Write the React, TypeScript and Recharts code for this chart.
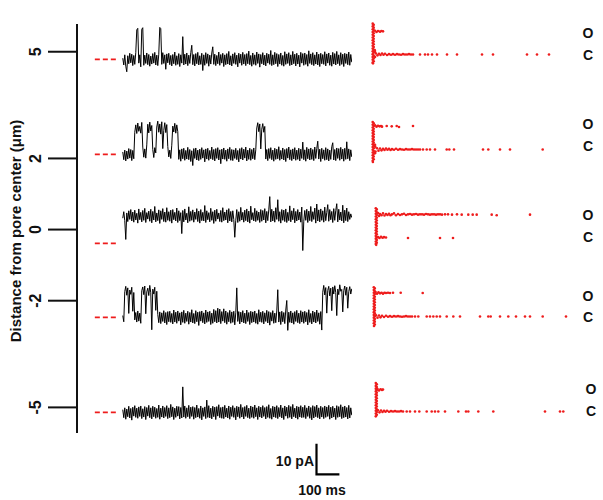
import React from "react";
import { LineChart, Line, XAxis, YAxis, ScatterChart, Scatter, ReferenceLine } from "recharts";

// distance axis (µm)
const distanceTicks = [5, 2, 0, -2, -5];

// single-channel current, pA relative to the closed level, 1 s sweep, evenly sampled
const trace5 = [
  0.4, -1.8, 1.5, -2.2, -4.0, 1.2, -1.4, 2.0, -1.1, 1.7,
  -2.0, 1.3, -1.6, 2.2, 9.6, 10.1, -1.2, 1.5, -2.4, 9.8,
  10.3, -1.9, 1.4, -1.3, 2.1, -1.7, 1.6, -2.2, 1.1, -1.5,
  1.9, -1.2, 2.3, -1.8, 1.4, -2.0, 1.7, 10.4, 10.0, -1.6,
  2.2, -1.3, 1.5, -3.2, 1.8, -1.1, 2.0, -1.7, 1.3, -2.1,
  1.6, -1.4, 2.4, -1.9, 1.2, -1.6, 1.9, -2.3, 1.5, -1.2,
  7.4, -1.8, 1.7, -1.5, 2.1, -2.0, 1.4, -1.3, 2.2, 4.6,
  -1.7, 1.6, -2.1, 1.9, -1.4, 2.3, -1.8, 1.2, -1.6, 2.0,
  -3.6, 1.5, -1.9, 2.2, -1.3, 1.8, -2.2, 1.4, -1.5, 2.1,
  4.1, -1.6, 1.7, -2.0, 1.3, -1.4, 2.4, -1.9, 1.6, -1.2,
  2.0, -2.3, 1.5, -1.7, 1.9, -1.5, 2.6, -1.8, 1.2, -2.1,
  1.8, -1.3, 2.2, -1.6, 1.4, -2.4, 2.0, -1.2, 1.7, -1.9,
  2.3, -1.5, 1.6, -2.0, 1.9, -1.4, 2.7, -1.7, 1.3, -2.2,
  2.1, -1.6, 1.5, -1.9, 2.4, -1.3, 1.8, -2.5, 1.6, -1.4,
  2.2, -1.8, 1.4, -2.1, 2.0, -1.2, 1.7, -1.6, 2.9, -2.0,
  1.5, -1.7, 2.3, -1.4, 1.9, -2.3, 1.6, -1.5, 2.1, -1.9,
  1.3, -2.2, 2.5, -1.6, 1.8, -1.3, 2.2, -2.0, 1.5, -1.8,
  2.6, -1.4, 1.7, -2.1, 2.0, -1.5, 1.4, -2.4, 2.3, -1.2,
  1.9, -1.9, 2.1, -1.6, 1.6, -2.2, 2.8, -1.3, 1.8, -1.7,
  2.2, -2.0, 1.5, -1.5, 2.4, -1.8, 1.7, -2.3, 2.0, -1.4,
  1.6, -1.6, 2.5, -2.1, 1.8, -1.2, 2.1, -1.9, 1.4, -2.2,
  2.3, -1.5, 1.9, -1.8, 2.6, -1.4, 1.5, -2.0, 2.2, -1.6,
  1.7, -2.3, 2.0, -1.3, 1.8, -1.7, 2.4, -1.9, 1.6, -0.9,
];
const trace2 = [
  0.8, -1.7, 1.4, -2.1, 1.1, -1.5, 1.9, -1.2, 1.6, -2.0,
  1.3, -1.4, 7.2, 9.6, 6.8, 10.2, 7.5, 9.1, 6.9, 10.4,
  2.4, -0.9, 1.8, -1.2, 3.1, 9.8, 7.0, 10.5, 7.6, 9.4,
  1.6, -1.0, 2.2, 0.5, 8.9, 10.8, 7.2, 9.9, 6.6, 10.6,
  1.9, 7.8, 10.3, 7.1, 9.7, 2.6, -0.8, 1.4, -1.3, 3.0,
  9.2, 7.3, 10.1, 6.9, 9.6, 7.4, -1.6, 1.5, -2.2, 1.8,
  -1.4, 2.0, -1.9, 1.3, -1.5, 2.3, -1.7, 1.6, -2.3, 1.2,
  -3.6, 1.9, -1.3, 2.1, -1.8, 1.4, -2.0, 1.7, -1.6, 2.2,
  -1.2, 1.5, -2.4, 1.8, -1.5, 2.0, -1.9, 1.3, -1.4, 2.4,
  -1.7, 1.6, -2.1, 1.9, -1.3, 2.2, -1.8, 1.5, -3.0, 1.7,
  -1.5, 2.1, -1.6, 1.4, -2.2, 1.8, -1.4, 2.3, -1.9, 1.6,
  -2.0, 1.5, -1.3, 2.0, -1.7, 1.3, -2.4, 1.9, -1.5, 2.2,
  -1.8, 1.7, -1.2, 2.4, -2.1, 1.4, -1.6, 2.0, -1.9, 1.6,
  -1.4, 2.1, -1.7, 1.5, 8.6, 10.3, 7.4, 9.9, 1.8, 8.2,
  10.0, 7.2, 9.1, -1.5, 1.6, -2.0, 1.9, -1.3, 2.2, -1.7,
  1.4, -2.2, 2.0, -1.6, 1.7, -1.4, 2.5, -1.9, 1.3, -1.5,
  2.1, -1.8, 1.6, -2.3, 1.9, -1.2, 2.4, -1.7, 1.5, -2.0,
  1.8, -1.5, 2.2, -1.9, 1.4, -1.6, 2.0, -2.1, 1.7, -1.3,
  4.0, -1.7, 1.5, -2.2, 2.3, -1.4, 1.8, -1.8, 2.1, -1.6,
  1.6, -2.0, 2.4, -1.3, 1.9, 4.3, -1.5, 1.7, -2.3, 2.0,
  -1.4, 1.5, -1.9, 2.2, -1.7, 1.8, -2.1, 1.4, -1.6, 2.5,
  3.8, -1.8, 1.6, -2.0, 2.1, -1.3, 1.9, -1.9, 2.3, -1.5,
  1.7, -2.2, 2.0, -1.6, 4.1, -1.4, 1.8, -2.0, 1.5, -0.8,
];
const trace0 = [
  8.2, 10.3, 7.4, 1.3, 9.9, 7.1, 10.6, 7.8, 11.0, 7.3,
  10.2, 6.9, 10.8, 7.6, 9.8, 6.6, 11.2, 7.7, 10.1, 7.0,
  10.7, 7.5, 11.4, 6.8, 10.0, 7.9, 10.5, 7.2, 11.1, 6.7,
  10.4, 7.6, 12.0, 7.0, 9.9, 7.4, 10.9, 6.5, 10.6, 7.8,
  11.3, 7.1, 10.2, 6.9, 11.6, 7.5, 10.3, 7.2, 10.8, 6.6,
  11.0, 7.7, 10.1, 7.3, 11.5, 6.8, 10.6, 7.4, 10.0, 3.2,
  10.7, 7.0, 11.2, 7.6, 9.8, 6.7, 11.9, 7.2, 10.4, 7.5,
  10.9, 6.9, 10.2, 7.8, 11.3, 7.1, 10.5, 6.6, 11.0, 7.4,
  10.1, 7.3, 12.3, 6.8, 10.6, 7.7, 10.0, 7.0, 11.4, 7.5,
  10.3, 6.5, 10.8, 7.2, 11.1, 7.9, 9.9, 7.1, 10.7, 6.9,
  11.6, 7.4, 10.2, 7.6, 10.9, 6.7, 11.3, 7.3, 10.4, 7.0,
  10.6, 7.8, 2.0, 7.5, 11.0, 6.8, 10.3, 7.2, 11.7, 7.6,
  10.1, 6.9, 10.8, 7.4, 11.2, 7.0, 10.5, 6.6, 12.1, 7.7,
  10.0, 7.3, 11.4, 7.1, 10.6, 7.5, 10.2, 6.8, 11.0, 7.2,
  10.7, 7.6, 11.3, 6.7, 10.4, 7.4, 10.9, 15.2, 7.0, 11.1,
  7.3, 10.5, 6.9, 11.6, 7.8, 14.2, 7.2, 10.3, 6.6, 11.0,
  7.5, 10.8, 7.1, 11.2, 6.8, 10.1, 7.4, 12.2, 7.0, 10.6,
  7.7, 11.4, 6.7, 10.4, 7.3, 11.0, 7.6, 10.2, 6.9, 11.8,
  -2.3, 7.2, 10.7, 7.5, 11.1, 6.8, 10.5, 7.4, 12.0, 7.1,
  10.3, 7.8, 11.5, 6.6, 12.8, 7.3, 10.9, 7.0, 11.2, 7.5,
  10.6, 6.9, 11.8, 7.4, 10.1, 12.6, 7.2, 11.0, 7.7, 10.4,
  6.8, 11.3, 7.5, 10.7, 12.9, 7.0, 11.1, 7.6, 10.2, 7.3,
  12.4, 6.7, 10.8, 7.4, 11.5, 7.1, 10.3, 7.8, 9.6, 8.4,
];
const traceM2 = [
  0.6, -1.4, 8.4, 10.1, 7.2, 9.6, 1.3, 8.9, 7.5, 9.8,
  2.0, 8.1, -0.8, 1.6, -1.5, 2.1, -1.2, 1.4, -1.9, 8.7,
  9.9, 7.4, 10.2, 1.2, 8.3, 9.5, 7.1, 10.4, 8.0, -4.0,
  9.2, 7.6, 9.8, 2.3, 8.5, 1.0, -1.7, 1.8, -2.0, 1.5,
  -1.3, 2.2, -1.8, 1.6, -2.3, 1.9, -1.4, 2.0, -1.6, 1.3,
  -2.1, 2.4, -1.5, 1.7, -1.9, 2.1, -1.2, 1.5, -2.4, 1.8,
  -1.6, 2.3, -1.9, 1.4, -1.3, 2.0, -2.2, 1.6, -1.5, 2.5,
  -1.8, 1.3, -2.0, 2.2, -1.4, 1.7, -2.6, 1.9, -1.2, 2.1,
  -1.7, 1.5, -2.1, 2.4, -1.6, 1.8, -1.3, 2.0, -2.3, 1.4,
  -1.9, 2.6, -1.4, 2.2, -1.8, 3.0, -1.5, 2.7, -2.0, 1.9,
  -1.2, 2.8, -1.7, 2.1, -2.2, 1.6, -1.4, 2.3, -1.9, 1.8,
  -1.6, 2.0, -2.4, 1.5, 9.6, -1.3, 1.9, -2.1, 1.7, -1.5,
  2.2, -1.8, 1.4, -2.0, 2.4, -1.3, 1.6, -2.3, 2.0, -1.7,
  1.8, -1.5, 2.1, -1.9, 1.3, -2.2, 2.5, -1.4, 1.7, -1.6,
  2.0, -2.1, 1.5, -1.3, 2.3, -1.8, 1.9, -2.5, 1.6, -1.2,
  2.2, -1.9, 1.4, -1.7, 2.1, 9.0, -1.5, 1.8, -2.3, 2.0,
  -1.4, 1.6, -2.0, 2.4, 5.5, -4.2, 1.7, -1.6, 2.1, -1.8,
  1.5, -2.2, 1.9, -1.3, 2.3, -1.7, 1.4, -2.0, 2.2, -1.5,
  1.8, -1.9, 2.0, -1.4, 1.6, -2.4, 2.5, -1.6, 1.3, -2.1,
  2.1, -1.5, 1.7, -1.8, 2.4, -1.3, 1.5, -2.2, 1.9, -4.1,
  8.2, 10.4, 7.3, 9.7, 1.4, 8.8, 10.1, 7.0, 9.5, 2.2,
  9.9, 7.6, 10.3, 8.1, 0.6, 9.2, 7.4, 10.6, 8.5, 9.1,
  1.8, 8.7, 10.2, 7.2, 9.8, 3.0, 8.4, 10.0, 7.6, 9.3,
];
const traceM5 = [
  0.9, -1.7, 1.5, -2.2, 1.1, -1.4, 2.0, -1.8, 1.3, -2.5,
  1.7, -1.2, 2.2, -1.6, 1.4, -1.9, 1.8, -1.3, 2.1, -2.0,
  1.2, -1.5, 1.9, -2.3, 1.6, -1.2, 2.3, -1.7, 1.5, -2.1,
  2.0, -1.4, 1.7, -1.9, 1.3, -1.6, 2.4, -2.2, 1.4, -1.5,
  2.1, -1.8, 1.6, -1.3, 2.2, -2.0, 1.5, -1.7, 2.6, -1.4,
  1.8, -2.3, 1.4, -1.6, 2.0, -1.2, 1.9, -2.1, 1.6, -1.8,
  8.3, -1.5, 2.1, -1.9, 1.5, -1.4, 2.3, -2.0, 1.7, -1.3,
  1.9, -2.2, 1.6, -1.7, 2.4, -1.5, 1.3, -1.9, 2.1, -2.4,
  1.5, -1.3, 1.8, -2.0, 4.0, -1.6, 2.2, -1.8, 1.4, -2.1,
  2.0, -1.4, 1.7, -2.3, 1.9, -1.2, 2.5, -1.7, 1.6, -1.9,
  1.8, -2.0, 2.3, -1.5, 1.4, -1.8, 2.1, -2.2, 1.7, -1.3,
  2.2, -1.6, 1.5, -2.4, 2.0, -1.4, 1.8, -1.9, 2.6, -1.5,
  1.6, -2.1, 1.9, -1.3, 2.3, -1.7, 1.4, -2.0, 2.1, -1.6,
  1.8, -1.9, 2.4, -1.4, 1.5, -2.3, 2.0, -1.5, 1.7, -1.8,
  2.2, -1.3, 1.6, -2.1, 1.9, -1.6, 2.5, -1.9, 1.3, -2.2,
  2.0, -1.5, 1.8, -1.7, 2.2, -2.0, 1.6, -1.4, 2.4, -1.8,
  1.5, -2.3, 2.1, -1.2, 1.7, -1.9, 2.3, -1.6, 1.9, -2.1,
  2.6, -1.4, 1.4, -1.8, 2.0, -2.2, 1.8, -1.5, 2.2, -1.7,
  1.7, -1.6, 2.3, -2.0, 1.5, -1.3, 2.1, -1.9, 1.6, -2.4,
  2.2, -1.8, 1.9, -1.4, 2.4, -1.7, 1.5, -2.1, 2.0, -1.5,
  1.6, -2.0, 2.1, -1.6, 1.8, -1.3, 2.3, -2.2, 1.7, -1.8,
  2.0, -1.5, 1.4, -2.3, 2.2, -1.6, 1.9, -1.4, 2.5, -2.0,
  1.8, -1.7, 2.1, -1.5, 1.6, -2.1, 2.3, -1.8, 1.5, -0.9,
];

// all-points amplitude histograms: [count, amplitude pA]
const hist5 = [
  [0.7, 10], [1.7, 9.6], [0.7, 9.1], [1.7, 8.7], [0.7, 8.2], [1.7, 7.8], [0.7, 7.3], [1.7, 6.9],
  [0.7, 6.4], [1.7, 6.0], [0.7, 5.5], [1.7, 5.1], [0.7, 4.6], [1.7, 4.2], [0.7, 3.7], [1.7, 3.3],
  [0.7, 2.8], [1.7, 2.4], [0.7, 1.9], [1.7, 1.5], [0.7, 1.0], [1.7, 0.6], [0.7, 0.1], [1.7, -0.4],
  [0.7, -0.8], [1.7, -1.3], [0.7, -1.7], [1.7, -2.2], [0.7, -2.6], [1.0, -2.9],
  [3, 0.8], [3, -0.8], [2.8, 1.4],
  [3, 7.7], [4.5, 7.3], [6, 7.6], [8, 7.4], [9.5, 7.6], [11, 7.5],
  [4, 0.3], [5.5, -0.3], [7, 0.2], [8.5, -0.2], [10, 0.3], [11.5, -0.1], [13, 0.2], [15, -0.2],
  [17, 0.1], [19, -0.1], [21, 0.1], [23, -0.1], [25, 0.1], [27, 0], [29, -0.1], [31, 0.1],
  [33, 0], [35, 0], [37, 0.1], [39, 0], [41, 0], [48, 0], [53, 0], [56, 0], [60, 0], [65, 0],
  [75, 0], [85, 0], [110, 0], [121, 0], [155, 0], [165, 0], [177, 0],
];
const hist2 = [
  [0.7, 8.9], [1.7, 8.5], [0.7, 8.0], [1.7, 7.6], [0.7, 7.1], [1.7, 6.7], [0.7, 6.2], [1.7, 5.8],
  [0.7, 5.3], [1.7, 4.9], [0.7, 4.4], [1.7, 4.0], [0.7, 3.5], [1.7, 3.1], [0.7, 2.6], [1.7, 2.2],
  [0.7, 1.7], [1.7, 1.3], [0.7, 0.8], [1.7, 0.4], [0.7, -0.1], [1.7, -0.5], [0.7, -1.0], [1.7, -1.4],
  [0.7, -1.9], [1.7, -2.3], [0.7, -2.8], [1.7, -3.2], [0.7, -3.7], [0.9, -4.1],
  [3.2, 0.9], [3.5, -0.7], [3.0, 1.5], [3, -1.2],
  [3, 7.8], [4.5, 7.4], [6, 7.7], [7.5, 7.5], [9, 7.6], [10, 7.4], [14.7, 7.6], [19.7, 7.5],
  [24.7, 7.6], [27, 7.3], [41, 7.6],
  [5, 0.4], [6.5, -0.4], [8, 0.3], [9.5, -0.3], [11, 0.2], [12.5, -0.2], [14, 0.3], [15.5, -0.1],
  [17, 0.2], [18.5, -0.2], [20, 0.1], [22, -0.1], [24, 0.2], [26, -0.1], [28, 0.1], [30, 0],
  [32, -0.1], [34, 0.1], [36, 0], [38, 0], [40, 0.1], [42, 0], [44, 0], [46, 0], [48, 0], [51, 0],
  [54.7, 0], [58, 0], [63, 0], [74.7, 0], [77.3, 0], [82, 0], [111, 0], [116.3, 0], [128, 0],
  [138, 0], [170.7, 0],
];
const hist0 = [
  [3.8, 9.5], [4.8, 9.1], [3.8, 8.6], [4.8, 8.2], [3.8, 7.7], [4.8, 7.3], [3.8, 6.8], [4.8, 6.4],
  [3.8, 5.9], [4.8, 5.5], [3.8, 5.0], [4.8, 4.6], [3.8, 4.1], [4.8, 3.7], [3.8, 3.2], [4.8, 2.8],
  [3.8, 2.3], [4.8, 1.9], [3.8, 1.4], [4.8, 1.0], [3.8, 0.5], [4.8, 0.1], [3.8, -0.4], [4.8, -0.8],
  [3.8, -1.3], [4.8, -1.7], [3.8, -2.1], [4.2, -2.4],
  [6, 7.9], [7, 7.0], [8, 7.6], [9.5, 7.2], [11, 7.8], [12.5, 7.1], [14, 7.6], [15.5, 7.3],
  [17, 7.7], [18.5, 7.2], [20, 7.5], [22, 7.8], [24, 7.2], [26, 7.6], [28, 7.3], [30, 7.5],
  [32, 7.7], [34, 7.3], [36, 7.5], [38, 7.6], [40, 7.4], [42, 7.5], [44, 7.6], [46, 7.4],
  [48, 7.5], [50, 7.5], [52, 7.4], [54, 7.6], [56, 7.5], [58, 7.4], [60, 7.5], [62, 7.5],
  [64, 7.4], [66, 7.5], [68, 7.5], [70, 7.4], [73, 7.5], [76, 7.5], [80, 7.4], [85, 7.5],
  [89.7, 7.4], [96.3, 7.4], [100.7, 7.4], [104.7, 7.4], [119.7, 7.4], [124.7, 7.2], [158, 7.4],
  [6, 0.1], [7.5, -0.2], [9, 0.2], [10.5, -0.1], [12, 0.1], [14, 0], [36, -0.2], [68, -0.2], [81, -0.2],
];
const histM2 = [
  [1.8, 9.5], [2.8, 9.1], [1.8, 8.6], [2.8, 8.2], [1.8, 7.7], [2.8, 7.3], [1.8, 6.8], [2.8, 6.4],
  [1.8, 5.9], [2.8, 5.5], [1.8, 5.0], [2.8, 4.6], [1.8, 4.1], [2.8, 3.7], [1.8, 3.2], [2.8, 2.8],
  [1.8, 2.3], [2.8, 1.9], [1.8, 1.4], [2.8, 1.0], [1.8, 0.5], [2.8, 0.1], [1.8, -0.4], [2.8, -0.8],
  [1.8, -1.3], [2.8, -1.7], [1.8, -2.2], [2.8, -2.6], [2.0, -3.1],
  [3.5, 7.9], [5, 7.4], [6.5, 7.8], [8, 7.5], [9.5, 7.7], [11, 7.4], [12.5, 7.7], [14, 7.6],
  [16, 7.7], [18, 7.6], [21, 7.7], [28.7, 7.7], [50.7, 7.6],
  [4, 0.4], [5.5, -0.4], [7, 0.3], [8.5, -0.3], [10, 0.2], [12, -0.2], [14, 0.2], [16, -0.1],
  [18, 0.1], [20, -0.1], [22, 0.1], [24, 0], [26, 0.1], [28, 0], [30, -0.1], [32, 0], [34, 0.1],
  [36, 0], [38, 0], [40, 0], [43, 0], [46.3, 0], [54.7, 0], [58, 0], [61.3, 0], [64.7, 0], [68, 0],
  [74.7, 0], [81.3, 0], [88, 0], [108, 0], [116.3, 0], [118.7, 0], [128, 0], [136.3, 0], [144, 0],
  [153, 0], [158, 0], [170.7, 0], [194, 0],
];
const histM5 = [
  [3.8, 9.2], [4.8, 8.8], [3.8, 8.3], [4.8, 7.9], [3.8, 7.4], [4.8, 7.0], [3.8, 6.5], [4.8, 6.1],
  [3.8, 5.6], [4.8, 5.2], [3.8, 4.7], [4.8, 4.3], [3.8, 3.8], [4.8, 3.4], [3.8, 2.9], [4.8, 2.5],
  [3.8, 2.0], [4.8, 1.6], [3.8, 1.1], [4.8, 0.7], [3.8, 0.2], [4.8, -0.2], [3.8, -0.7], [4.8, -1.1],
  [3.8, -1.6],
  [5.5, 7.3], [7, 6.8], [8.5, 7.2], [10, 7.0], [11, 7.1],
  [6, 0.4], [7.5, -0.3], [9, 0.3], [10.5, -0.2], [12, 0.2], [13.5, -0.1], [15, 0.2], [17, -0.1],
  [19, 0.1], [21, 0], [23, 0.1], [25, 0], [27, 0], [29, 0.1], [31, 0], [34.7, 0], [38, 0], [43, 0],
  [47.3, 0], [54.7, 0], [59.7, 0], [63, 0], [66.3, 0], [73, 0], [86.3, 0], [94, 0], [96.3, 0],
  [106.3, 0], [121.3, 0], [173, 0], [188, 0], [191.3, 0],
];

const scaleBarPa = 10;
const scaleBarMs = 100;
const scaleBarStart = 846;

const FONT = "'Liberation Sans', Arial, sans-serif";
const RED = "#ee1c1c";

// shared current/time scales for every row
const PPA = 3.08;
const PA_MIN = -8;
const PA_MAX = 18;
const T_MIN = -130;
const T_MAX = 1000;
const PPMS = 0.229;
const TRACE_LEFT = 123 + T_MIN * PPMS;
const TRACE_W = (T_MAX - T_MIN) * PPMS;
const ROW_H = (PA_MAX - PA_MIN) * PPA;
const ZERO_OFF = PA_MAX * PPA;
const HIST_PAD = 8;
const HIST_LEFT = 372 - HIST_PAD;
const HIST_MAX = 200;

const rows = [
  { trace: trace5, hist: hist5, traceY: 59, histY: 54.3, labelX: 588, oY: 33, cY: 55 },
  { trace: trace2, hist: hist2, traceY: 154.5, histY: 149, labelX: 588, oY: 124, cY: 146 },
  { trace: trace0, hist: hist0, traceY: 243, histY: 237.7, labelX: 588, oY: 215, cY: 237 },
  { trace: traceM2, hist: histM2, traceY: 317.5, histY: 316, labelX: 588, oY: 296, cY: 317 },
  { trace: traceM5, hist: histM5, traceY: 412, histY: 411.7, labelX: 591, oY: 389, cY: 411 },
];

const toSeries = (vals: number[]) =>
  vals.map((i, k) => ({ t: (k * 1000) / (vals.length - 1), i }));

function DistTick(props: any) {
  const { x, y, payload } = props;
  return (
    <text
      x={x - 7}
      y={y}
      transform={`rotate(-90, ${x - 7}, ${y})`}
      textAnchor="middle"
      fontFamily={FONT}
      fontWeight="bold"
      fontSize={16}
      fill="#111"
    >
      {payload.value}
    </text>
  );
}

function TraceRow({ data, zeroY, dashed = true, width = 1 }: any) {
  return (
    <div style={{ position: "absolute", left: TRACE_LEFT, top: zeroY - ZERO_OFF }}>
      <LineChart width={TRACE_W} height={ROW_H} data={data} margin={{ top: 0, right: 0, bottom: 0, left: 0 }}>
        <XAxis type="number" dataKey="t" domain={[T_MIN, T_MAX]} hide />
        <YAxis type="number" domain={[PA_MIN, PA_MAX]} hide />
        {dashed && (
          <ReferenceLine
            segment={[{ x: -122, y: 0 }, { x: -30, y: 0 }]}
            stroke={RED}
            strokeDasharray="5 3"
            strokeWidth={1.8}
          />
        )}
        <Line type="linear" dataKey="i" stroke="#000" strokeWidth={width} dot={false} isAnimationActive={false} />
      </LineChart>
    </div>
  );
}

function HistRow({ data, zeroY }: any) {
  return (
    <div style={{ position: "absolute", left: HIST_LEFT, top: zeroY - ZERO_OFF }}>
      <ScatterChart
        width={HIST_MAX + 2 * HIST_PAD}
        height={ROW_H}
        margin={{ top: 0, right: HIST_PAD, bottom: 0, left: HIST_PAD }}
      >
        <XAxis type="number" dataKey="n" domain={[0, HIST_MAX]} hide />
        <YAxis type="number" dataKey="a" domain={[PA_MIN, PA_MAX]} hide />
        <Scatter
          data={data}
          isAnimationActive={false}
          shape={(p: any) => <circle cx={p.cx} cy={p.cy} r={1.3} fill={RED} />}
        />
      </ScatterChart>
    </div>
  );
}

export default function App() {
  const textStyle = { fontFamily: FONT, fontWeight: "bold" as const, fill: "#111" };
  return (
    <div style={{ position: "absolute", left: 0, top: 0, width: 603, height: 500, background: "#fff" }}>
      <div style={{ position: "absolute", left: 0, top: 0 }}>
        <LineChart
          width={603}
          height={500}
          data={distanceTicks.map((d) => ({ d }))}
          margin={{ top: 24, right: 0, bottom: 67, left: 0 }}
        >
          <XAxis dataKey="d" hide />
          <YAxis
            type="number"
            domain={[-5.72, 5.78]}
            ticks={distanceTicks}
            interval={0}
            width={77}
            tickSize={29}
            tickMargin={0}
            axisLine={{ stroke: "#111", strokeWidth: 2 }}
            tickLine={{ stroke: "#111", strokeWidth: 2 }}
            tick={<DistTick />}
          />
          <Line dataKey="d" stroke="none" dot={false} activeDot={false} isAnimationActive={false} />
        </LineChart>
      </div>

      {rows.map((r, k) => (
        <TraceRow key={`t${k}`} data={toSeries(r.trace)} zeroY={r.traceY} />
      ))}
      {rows.map((r, k) => (
        <HistRow key={`h${k}`} data={r.hist.map(([n, a]) => ({ n, a }))} zeroY={r.histY} />
      ))}

      <TraceRow
        zeroY={474}
        dashed={false}
        width={2.2}
        data={[
          { t: scaleBarStart, i: scaleBarPa },
          { t: scaleBarStart, i: 0 },
          { t: scaleBarStart + scaleBarMs, i: 0 },
        ]}
      />

      <svg width={603} height={500} style={{ position: "absolute", left: 0, top: 0, pointerEvents: "none" }}>
        <text
          x={21}
          y={231}
          transform="rotate(-90, 21, 231)"
          textAnchor="middle"
          fontSize={15}
          {...textStyle}
        >
          Distance from pore center (μm)
        </text>
        {rows.map((r, k) => (
          <g key={`l${k}`}>
            <text x={r.labelX} y={r.oY} textAnchor="middle" dominantBaseline="central" fontSize={14} {...textStyle}>
              O
            </text>
            <text x={r.labelX} y={r.cY} textAnchor="middle" dominantBaseline="central" fontSize={14} {...textStyle}>
              C
            </text>
          </g>
        ))}
        <text x={314} y={461} textAnchor="end" dominantBaseline="central" fontSize={14} {...textStyle}>
          {scaleBarPa} pA
        </text>
        <text x={322} y={490} textAnchor="middle" dominantBaseline="central" fontSize={14} {...textStyle}>
          {scaleBarMs} ms
        </text>
      </svg>
    </div>
  );
}
